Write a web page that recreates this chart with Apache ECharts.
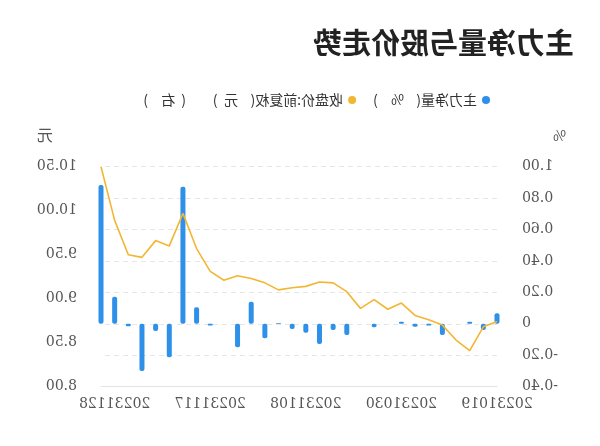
<!DOCTYPE html>
<html>
<head>
<meta charset="utf-8">
<script src="https://cdn.jsdelivr.net/npm/echarts@6/dist/echarts.min.js"></script>
<style>
html,body{margin:0;padding:0;background:#fff;}
#wrap{width:600px;height:446px;transform:scaleX(-1);}
#chart{width:600px;height:446px;}
</style>
</head>
<body>
<div id="wrap"><div id="chart"></div></div>
<script>
var titleText = '主力净量与股价走势';
var seriesNames = ['主力净量(%)', '收盘价:前复权(元)（右）'];
var dates = ['20231019','20231020','20231023','20231024','20231025','20231026','20231027','20231030','20231031','20231101','20231102','20231103','20231106','20231107','20231108','20231109','20231110','20231113','20231114','20231115','20231116','20231117','20231120','20231121','20231122','20231123','20231124','20231127','20231128','20231129'];
var netFlow = [0.067, -0.039, 0.014, 0, -0.071, -0.01, -0.018, 0.014, 0, -0.022, 0, -0.071, -0.039, -0.128, -0.056, -0.033, 0.005, -0.092, 0.141, -0.149, 0, -0.01, 0.105, 0.873, -0.213, -0.045, -0.30, -0.015, 0.173, 0.884];
var closePrice = [8.74, 8.68, 8.41, 8.53, 8.70, 8.76, 8.81, 8.95, 8.88, 8.99, 8.89, 9.08, 9.18, 9.19, 9.14, 9.125, 9.10, 9.18, 9.23, 9.26, 9.21, 9.31, 9.57, 9.97, 9.60, 9.66, 9.47, 9.50, 9.89, 10.50];
var leftAxisName = '%';
var rightAxisName = '元';

var chart = echarts.init(document.getElementById('chart'), null, {renderer: 'canvas'});
var serifNum = 'DejaVu Serif';
var cjk = '"Noto Sans CJK SC", "Noto Sans", sans-serif';

function legendFormatter(name) {
  var out = '';
  var prevClose = false;
  for (var i = 0; i < name.length; i++) {
    var c = name[i];
    if (c === '(' || c === '（') {
      out += prevClose ? '{lpg|(}' : '{lp|(}';
      prevClose = false;
    } else if (c === ')' || c === '）') {
      out += '{rp|)}';
      prevClose = true;
    } else {
      out += '{t|' + c + '}';
      prevClose = false;
    }
  }
  return out;
}

chart.setOption({
  animation: false,
  backgroundColor: '#fff',
  title: {
    text: titleText, left: 26, top: 28, padding: 0,
    textStyle: {fontFamily: cjk, fontSize: 29, fontWeight: 'bold', color: '#222'}
  },
  legend: {
    left: 110, top: 93, padding: 0,
    icon: 'circle', itemWidth: 8, itemHeight: 8, itemGap: 17,
    formatter: legendFormatter,
    textStyle: {
      fontFamily: cjk, fontSize: 14, color: '#333',
      rich: {
        t: {fontFamily: cjk, fontSize: 14, color: '#333'},
        lp: {fontFamily: cjk, fontSize: 14, color: '#333', width: 17, align: 'left'},
        lpg: {fontFamily: cjk, fontSize: 14, color: '#333', width: 17, align: 'left', padding: [0, 0, 0, 14]},
        rp: {fontFamily: cjk, fontSize: 14, color: '#333', width: 18, align: 'right'}
      }
    },
    data: seriesNames
  },
  grid: {left: 103, right: 101, top: 166.7, bottom: 59.3},
  xAxis: {
    type: 'category', data: dates, boundaryGap: false,
    axisLine: {show: true, onZero: false, lineStyle: {color: '#e3e3e3'}},
    axisTick: {show: false},
    axisLabel: {interval: 6, margin: 11, fontFamily: serifNum, fontSize: 14, color: '#555'}
  },
  yAxis: [{
    type: 'value', min: -0.4, max: 1.0, interval: 0.2,
    name: leftAxisName, nameLocation: 'end', nameGap: 24,
    nameTextStyle: {align: 'right', padding: [0, 56, 0, 0], fontFamily: cjk, fontSize: 14, color: '#555'},
    axisLine: {show: false}, axisTick: {show: false},
    axisLabel: {margin: 25, fontFamily: serifNum, fontSize: 14, color: '#555',
      formatter: function (v) { return Math.abs(v) < 1e-9 ? '0' : v.toFixed(2); }},
    splitLine: {show: true, lineStyle: {color: '#e6e6e6', type: [5, 4]}}
  }, {
    type: 'value', min: 8, max: 10.5, interval: 0.5,
    name: rightAxisName, nameLocation: 'end', nameGap: 24,
    nameTextStyle: {align: 'left', padding: [0, 0, 0, 48], fontFamily: cjk, fontSize: 16, color: '#555'},
    axisLine: {show: false}, axisTick: {show: false},
    axisLabel: {margin: 24, fontFamily: serifNum, fontSize: 14, color: '#555',
      formatter: function (v) { return v.toFixed(2); }},
    splitLine: {show: false}
  }],
  series: [{
    name: seriesNames[0], type: 'bar', yAxisIndex: 0, data: netFlow,
    barWidth: 5, itemStyle: {color: '#2e90e8', borderRadius: 2}
  }, {
    name: seriesNames[1], type: 'line', yAxisIndex: 1, data: closePrice,
    showSymbol: false, symbol: 'none', smooth: false,
    lineStyle: {color: '#f2b632', width: 1.6}, itemStyle: {color: '#f2b632'}
  }]
});
</script>
</body>
</html>
